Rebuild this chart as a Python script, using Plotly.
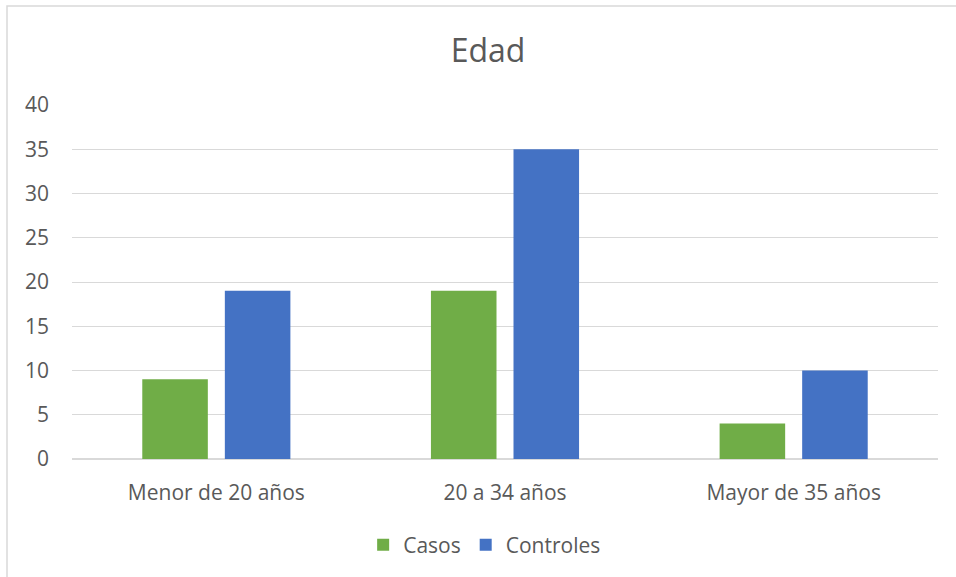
import plotly.graph_objects as go

categories = ["Menor de 20 años", "20 a 34 años", "Mayor de 35 años"]
casos = [9, 19, 4]
controles = [19, 35, 10]
y_ticks = [0, 5, 10, 15, 20, 25, 30, 35, 40]

FONT = "'Open Sans', Calibri, Carlito, sans-serif"
TEXT = "#595959"
GRID = "#D9D9D9"

fig = go.Figure()
fig.add_trace(go.Bar(name="Casos", x=categories, y=casos,
                     marker=dict(color="#70AD47", line=dict(width=0))))
fig.add_trace(go.Bar(name="Controles", x=categories, y=controles,
                     marker=dict(color="#4472C4", line=dict(width=0))))

fig.update_layout(
    width=956, height=577,
    margin=dict(l=72, r=18, t=105, b=118),
    paper_bgcolor="white", plot_bgcolor="white",
    barmode="group", bargap=0.428, bargroupgap=0.206,
    font=dict(family=FONT, color=TEXT, size=21),
    title=dict(text="Edad", x=488 / 956, xanchor="center", y=1 - 51 / 577,
               yanchor="middle", yref="container", xref="container",
               font=dict(size=32, color=TEXT, family=FONT)),
    legend=dict(orientation="h", x=0.4765, xanchor="center", y=-0.243,
                yanchor="middle", font=dict(size=21, color=TEXT),
                itemwidth=30, traceorder="normal"),
    xaxis=dict(showgrid=False, showline=True, linecolor=GRID, linewidth=1,
               ticks="", ticklabelstandoff=15, tickfont=dict(size=21, color=TEXT)),
    yaxis=dict(range=[0, 40], tickvals=y_ticks, showgrid=True, gridcolor=GRID,
               gridwidth=1, zeroline=True, zerolinecolor=GRID, showline=False,
               ticks="", ticklabelstandoff=22, tickfont=dict(size=21, color=TEXT)),
    shapes=[dict(type="rect", xref="paper", yref="paper",
                 x0=(7 - 72) / 866, x1=(962 - 72) / 866,
                 y0=(459 - 582) / 354, y1=(459 - 6) / 354,
                 line=dict(color=GRID, width=1.5), fillcolor="rgba(0,0,0,0)",
                 layer="below")],
)

fig.write_html("out.html")
